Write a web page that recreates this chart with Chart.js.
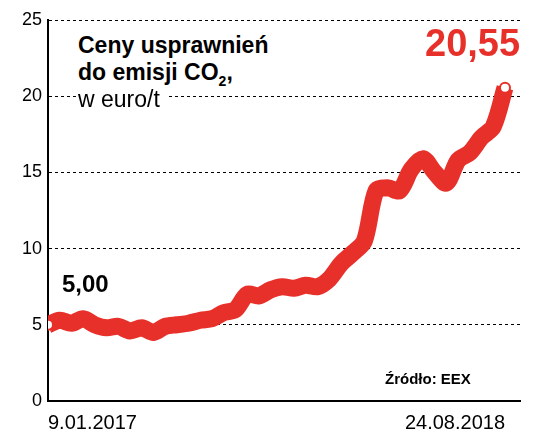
<!DOCTYPE html>
<html><head><meta charset="utf-8">
<script src="https://cdn.jsdelivr.net/npm/chart.js@4"></script>
<style>
body{margin:0;background:#fff;font-family:"Liberation Sans",Arial,sans-serif}
#w{position:relative;width:543px;height:441px}
.t{position:absolute;color:#000;white-space:nowrap;background:#fff}
</style></head><body>
<div id="w"><canvas id="c" width="543" height="441"></canvas>
<div class="t" style="left:78px;top:32px;font-size:23px;font-weight:bold;line-height:27px;padding-right:4px">Ceny usprawnień<br>do emisji CO<sub style="font-size:14px">2</sub>,</div>
<div class="t" style="left:78px;top:86px;font-size:23px;padding-right:6px">w euro/t</div>
<div class="t" style="left:425px;top:22px;font-size:38px;font-weight:bold;color:#e8302a;background:transparent">20,55</div>
<div class="t" style="left:62px;top:270px;font-size:24px;font-weight:bold;background:transparent">5,00</div>
<div class="t" style="left:385px;top:370px;font-size:15px;font-weight:bold;background:transparent">Źródło: EEX</div>
</div>
<script>
const dates=["9.01.2017","24.08.2018"];
const prices=[5.0,5.3,5.1,5.4,5.0,4.8,4.9,4.6,4.8,4.5,4.9,5.0,5.1,5.3,5.4,5.8,6.0,7.0,6.9,7.3,7.5,7.4,7.6,7.5,8.0,9.0,9.7,10.5,13.8,14.0,13.8,15.2,15.9,15.0,14.3,15.8,16.3,17.3,18.0,20.55];
const yTicks=[0,5,10,15,20,25];
const last=prices.length-1;
new Chart(document.getElementById('c'),{type:'line',
data:{datasets:[{data:prices.map((v,i)=>({x:i,y:v})),borderColor:'#e8302a',borderWidth:17,tension:0.3,
pointRadius:prices.map((v,i)=>i===0||i===last?5:0),pointBackgroundColor:'#fff',pointBorderColor:'#e8302a',pointBorderWidth:2}]},
options:{responsive:false,animation:false,layout:{padding:{top:20,right:23,bottom:4,left:0}},
plugins:{legend:{display:false},tooltip:{enabled:false}},
scales:{
x:{type:'linear',min:0,max:last*472/457,afterBuildTicks:s=>{s.ticks=[{value:0},{value:last}]},
ticks:{autoSkip:false,maxRotation:0,align:'inner',color:'#000',font:{size:20,family:'Liberation Sans'},callback:v=>v===0?dates[0]:dates[1],padding:2},
grid:{display:false},border:{color:'#000',width:2}},
y:{min:0,max:25,afterBuildTicks:s=>{s.ticks=yTicks.map(v=>({value:v}))},afterFit:s=>{s.width=48},
ticks:{color:'#000',font:{size:18,family:'Liberation Sans'},padding:6},
grid:{color:'#000',lineWidth:1,drawTicks:false},border:{color:'#000',width:2,dash:[3,3]}}
}}});
</script></body></html>
